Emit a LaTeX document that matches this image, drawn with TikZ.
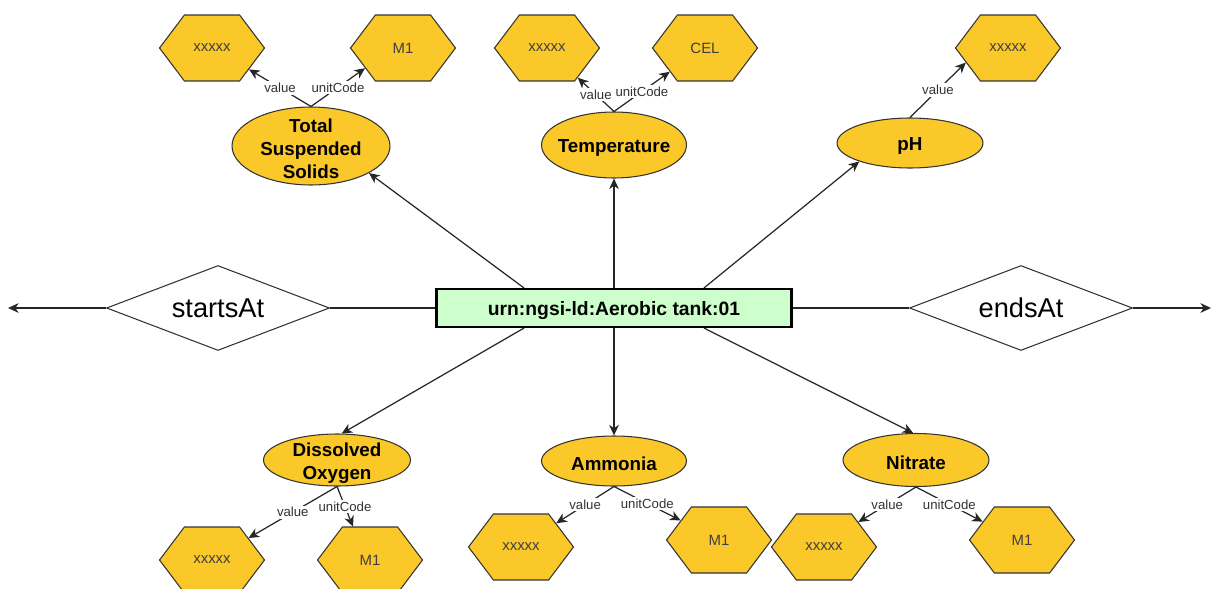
\documentclass[tikz,border=0pt]{standalone}
\usepackage{fontspec}
\setmainfont{Liberation Sans}
\usetikzlibrary{shapes.geometric,shapes.symbols,arrows.meta}
\definecolor{attrfill}{RGB}{251,200,41}
\definecolor{entfill}{RGB}{204,255,204}

\begin{document}
\begin{tikzpicture}[x=0.02cm, y=-0.02cm, >={Stealth[length=6pt,width=5.5pt,inset=1.8pt]},
    conn/.style={draw=black!85, line width=0.7pt},
    attr/.style={ellipse, draw=black!80, fill=attrfill, line width=0.6pt, inner sep=0pt},
    attrtext/.style={font=\fontsize{10.7}{13}\selectfont\bfseries, align=center, yshift=-1.7pt},
    valbox/.style={signal, signal to=east and west, signal pointer angle=106, draw=black!80, fill=attrfill,
        line width=0.6pt, minimum width=2.1cm, minimum height=1.32cm, inner sep=0pt, text=black!75,
        font=\fontsize{8.5}{10}\selectfont},
    rel/.style={diamond, draw=black!80, fill=white, line width=0.6pt, aspect=2.6, inner sep=0pt,
        minimum width=4.46cm, minimum height=1.7cm, font=\fontsize{15.5}{18}\selectfont},
    elab/.style={fill=white, inner sep=1pt, text=black!80, font=\fontsize{7.5}{9}\selectfont}]
    \useasboundingbox (0,0) rectangle (1213,588);

    % entity and relations
    \node[draw=black, line width=1.2pt, fill=entfill, minimum width=7.1cm, minimum height=0.76cm,
        text height=9.5pt, text depth=0.4pt,
        font=\fontsize{11}{13}\selectfont\bfseries] (tank) at (614,308) {urn:ngsi-ld:Aerobic tank:01};
    \node[rel] (starts) at (218,308) {startsAt};
    \node[rel] (ends) at (1021,308) {endsAt};
    \coordinate (startsend) at (8,308);
    \coordinate (endsend) at (1211,308);

    % attributes
    \node[attr, minimum width=3.16cm, minimum height=1.56cm, label={[attrtext]center:Total\\Suspended\\Solids}] (tss) at (311,146) {};
    \node[attr, minimum width=2.9cm, minimum height=1.32cm, label={[attrtext]center:Temperature}] (temp) at (614,145) {};
    \node[attr, minimum width=2.92cm, minimum height=1.0cm, label={[attrtext]center:pH}] (ph) at (910,143) {};
    \node[attr, minimum width=2.94cm, minimum height=1.04cm, label={[attrtext]center:Dissolved\\Oxygen}] (do) at (337,460) {};
    \node[attr, minimum width=2.9cm, minimum height=1.0cm, label={[attrtext]center:Ammonia}] (amm) at (614,461) {};
    \node[attr, minimum width=2.92cm, minimum height=1.06cm, label={[attrtext]center:Nitrate}] (nit) at (916,460) {};

    % values
    \node[valbox] (tssv) at (212,48) {xxxxx};
    \node[valbox] (tssu) at (403,48) {M1};
    \node[valbox] (tempv) at (547,48) {xxxxx};
    \node[valbox] (tempu) at (705,48) {CEL};
    \node[valbox] (phv) at (1008,48) {xxxxx};
    \node[valbox] (dov) at (212,560) {xxxxx};
    \node[valbox] (dou) at (370,560) {M1};
    \node[valbox] (ammv) at (521,547) {xxxxx};
    \node[valbox] (ammu) at (719,540) {M1};
    \node[valbox] (nitv) at (824,547) {xxxxx};
    \node[valbox] (nitu) at (1022,540) {M1};

    % relation lines
    \draw[conn, ->] (starts.west) -- (startsend);
    \draw[conn] (starts.east) -- (tank.west);
    \draw[conn] (tank.east) -- (ends.west);
    \draw[conn, ->] (ends.east) -- (endsend);

    % entity to attributes
    \draw[conn, ->] ([xshift=-1.8cm]tank.north) -- (tss.-25);
    \draw[conn, ->] (tank.north) -- (temp.south);
    \draw[conn, ->] ([xshift=1.8cm]tank.north) -- (ph.200);
    \draw[conn, ->] ([xshift=-1.8cm]tank.south) -- (do.80);
    \draw[conn, ->] (tank.south) -- (amm.north);
    \draw[conn, ->] ([xshift=1.8cm]tank.south) -- (nit.96);

    % attributes to values
    \draw[conn, ->] (tss.north) -- node[elab]{value} (tssv.-30);
    \draw[conn, ->] (tss.north) -- node[elab]{unitCode} (tssu.208);
    \draw[conn, ->] (temp.north) -- node[elab]{value} (tempv.-44);
    \draw[conn, ->] (temp.north) -- node[elab]{unitCode} (tempu.214);
    \draw[conn, ->] (ph.north) -- node[elab]{value} (phv.199);
    \draw[conn, ->] (do.south) -- node[elab]{value} (dov.31);
    \draw[conn, ->] (do.south) -- node[elab]{unitCode} (dou.117);
    \draw[conn, ->] (amm.south) -- node[elab]{value} (ammv.34);
    \draw[conn, ->] (amm.south) -- node[elab]{unitCode} (ammu.153);
    \draw[conn, ->] (nit.south) -- node[elab]{value} (nitv.36);
    \draw[conn, ->] (nit.south) -- node[elab]{unitCode} (nitu.155);
\end{tikzpicture}
\end{document}
